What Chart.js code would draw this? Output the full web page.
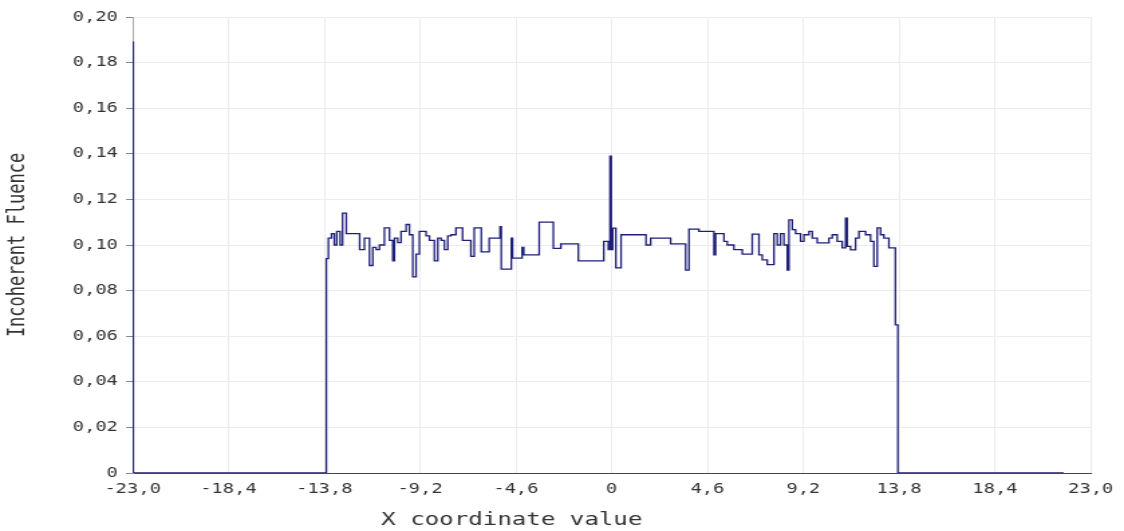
<!DOCTYPE html>
<html>
<head>
<meta charset="utf-8">
<script src="https://cdn.jsdelivr.net/npm/chart.js@4.4.1/dist/chart.umd.min.js"></script>
<style>
  html, body { margin: 0; padding: 0; background: #fff; overflow: hidden; }
  /* the reference is a horizontally stretched screenshot, so the canvas is stretched the same way */
  #grafico { display: block; transform: scaleX(1.3397); transform-origin: 0 0; }
</style>
</head>
<body>
<canvas id="grafico" width="839" height="531"></canvas>
<script>
const xTicks = [-23, -18.4, -13.8, -9.2, -4.6, 0, 4.6, 9.2, 13.8, 18.4, 23];
const xTickLabels = ['-23,0', '-18,4', '-13,8', '-9,2', '-4,6', '0', '4,6', '9,2', '13,8', '18,4', '23,0'];
const yTicks = [0, 0.02, 0.04, 0.06, 0.08, 0.10, 0.12, 0.14, 0.16, 0.18, 0.20];
const yTickLabels = ['0', '0,02', '0,04', '0,06', '0,08', '0,10', '0,12', '0,14', '0,16', '0,18', '0,20'];
const tituloX = 'X coordinate value';
const tituloY = 'Incoherent Fluence';

// step start positions and the fluence value held from there
const posX = [
  -23, -22.97, -13.7, -13.6, -13.45, -13.32, -13.2, -13.04, -12.92, -12.74,
  -12.1, -11.87, -11.63, -11.47, -11.31, -11.15, -10.91, -10.67, -10.51, -10.43,
  -10.27, -10.11, -9.87, -9.71, -9.55, -9.39, -9.23, -8.91, -8.75, -8.51,
  -8.35, -8.19, -8.03, -7.87, -7.71, -7.48, -7.16, -6.76, -6.6, -6.26,
  -5.88, -5.36, -5.3, -4.82, -4.76, -4.3, -4.22, -3.48, -2.8, -2.44,
  -1.6, -0.38, -0.16, -0.08, -0.02, 0.05, 0.2, 0.45, 1.65, 1.87,
  2.83, 3.55, 3.71, 4.19, 4.91, 4.99, 5.39, 5.55, 5.87, 6.27,
  6.75, 7.07, 7.23, 7.47, 7.79, 7.95, 8.11, 8.27, 8.43, 8.51,
  8.67, 8.83, 9.07, 9.23, 9.47, 9.63, 9.87, 10.43, 10.59, 10.83,
  11.07, 11.23, 11.31, 11.47, 11.71, 11.87, 12.19, 12.43, 12.59, 12.75,
  12.91, 13.07, 13.31, 13.62, 13.74, 21.7
];
const fluencia = [
  0.189, 0, 0.094, 0.103, 0.105, 0.100, 0.106, 0.100, 0.114, 0.105,
  0.098, 0.103, 0.091, 0.099, 0.098, 0.100, 0.1075, 0.102, 0.093, 0.103,
  0.101, 0.106, 0.109, 0.1045, 0.086, 0.096, 0.106, 0.104, 0.102, 0.093,
  0.103, 0.102, 0.098, 0.104, 0.1045, 0.1075, 0.102, 0.095, 0.1075, 0.097,
  0.103, 0.108, 0.0894, 0.103, 0.0942, 0.099, 0.0957, 0.110, 0.0985, 0.1005,
  0.093, 0.1016, 0.098, 0.139, 0.098, 0.1074, 0.090, 0.1045, 0.100, 0.103,
  0.1005, 0.089, 0.107, 0.106, 0.0957, 0.105, 0.1016, 0.100, 0.098, 0.096,
  0.1048, 0.0957, 0.0935, 0.0914, 0.105, 0.100, 0.105, 0.100, 0.089, 0.111,
  0.1067, 0.105, 0.1016, 0.1045, 0.106, 0.103, 0.1009, 0.103, 0.1045, 0.1016,
  0.0987, 0.1118, 0.0994, 0.0979, 0.103, 0.106, 0.1045, 0.1016, 0.0906, 0.1075,
  0.1045, 0.103, 0.0987, 0.065, 0, 0
];

const fuente = 'DejaVu Sans Mono';

// the x title in the reference sits left of the plot centre, so it is drawn by hand
const tituloAbajo = {
  id: 'tituloAbajo',
  afterDraw(chart) {
    const c = chart.ctx;
    c.save();
    c.font = '18px "' + fuente + '"';
    c.fillStyle = '#333';
    c.textAlign = 'center';
    c.textBaseline = 'middle';
    c.fillText(tituloX, 382, 520);
    c.restore();
  }
};

const ctx = document.getElementById('grafico').getContext('2d');
window.chartFluencia = new Chart(ctx, {
  type: 'line',
  data: {
    datasets: [{
      data: posX.map((x, i) => ({ x: x, y: fluencia[i] })),
      stepped: true,
      fill: false,
      borderColor: '#1e1e78',
      borderWidth: 1.3,
      pointRadius: 0
    }]
  },
  plugins: [tituloAbajo],
  options: {
    responsive: false,
    animation: false,
    layout: { padding: { top: 17, right: 24, bottom: 0, left: 0 } },
    plugins: {
      legend: { display: false },
      tooltip: { enabled: false }
    },
    scales: {
      x: {
        type: 'linear',
        min: -23,
        max: 23,
        afterBuildTicks: (scale) => { scale.ticks = xTicks.map(v => ({ value: v })); },
        afterFit: (scale) => { scale.height = 58; },
        ticks: {
          autoSkip: false,
          maxRotation: 0,
          padding: 8,
          color: '#333',
          font: { family: fuente, size: 14 },
          callback: (v, i) => xTickLabels[i]
        },
        grid: { color: '#ececec', drawTicks: false },
        border: { color: '#444', width: 1 },
        title: { display: false }
      },
      y: {
        min: 0,
        max: 0.2,
        afterBuildTicks: (scale) => { scale.ticks = yTicks.map(v => ({ value: v })); },
        afterFit: (scale) => { scale.width = 99; },
        ticks: {
          autoSkip: false,
          padding: 6,
          color: '#333',
          font: { family: fuente, size: 14 },
          callback: (v, i) => yTickLabels[i]
        },
        grid: { color: '#ececec', tickLength: 5, tickColor: '#888' },
        border: { color: '#aaa', width: 1 },
        title: {
          display: true,
          text: tituloY,
          color: '#333',
          font: { family: fuente, size: 17 },
          padding: { top: 3, bottom: 0 }
        }
      }
    }
  }
});
</script>
</body>
</html>
